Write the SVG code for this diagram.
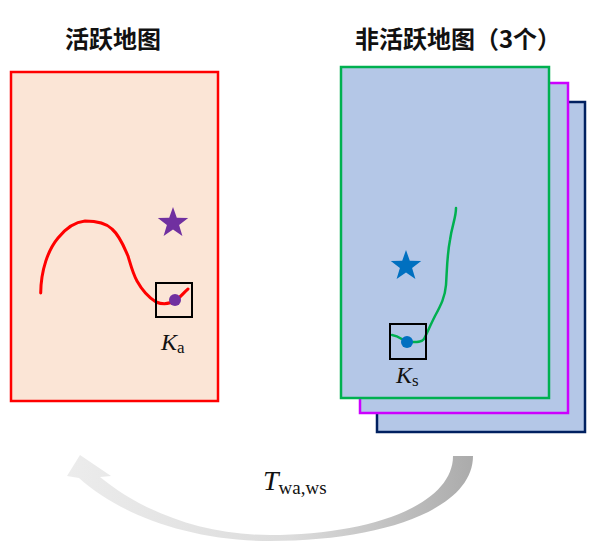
<svg xmlns="http://www.w3.org/2000/svg" width="593" height="553" viewBox="0 0 593 553">
<style>
.title{font-family:"Noto Sans CJK SC","Liberation Sans",sans-serif;font-size:24px;font-weight:bold;fill:#111;}
.math{font-family:"Liberation Serif",serif;fill:#111;}
.map{fill:#b4c7e7;stroke-width:2.5;}
.kbox{fill:none;stroke:#000;stroke-width:2;}
</style>
<defs>
<linearGradient id="arrowGrad" x1="0" y1="0" x2="1" y2="0">
<stop offset="0" stop-color="#ececec"/>
<stop offset="0.55" stop-color="#dcdcdc"/>
<stop offset="1" stop-color="#ababab"/>
</linearGradient>
</defs>
<rect width="593" height="553" fill="#fff"/>
<text class="title" x="113" y="48" text-anchor="middle">活跃地图</text>
<text class="title" x="458" y="48" text-anchor="middle">非活跃地图（3个）</text>

<g id="active-map">
<rect x="11" y="72" width="207" height="329" fill="#fbe5d6" stroke="#ff0000" stroke-width="2.5"/>
<path d="M40.7 293 C41 270 48 250 58 238 C66 228 75 222 85 221 C95 221 105 222 112 229 C120 236 124 247 128 256 C131 266 133 274 137 281 C142 290 148 297 156 302 C163 305 170 304 176 300 C181 297 184 292 188 289" fill="none" stroke="#ff0000" stroke-width="3" stroke-linecap="round"/>
<polygon fill="#7030a0" points="173,207 176.8,217.8 188.2,218.1 179.1,225 182.4,236 173,229.5 163.6,236 166.9,225 157.8,218.1 169.2,217.8"/>
<rect class="kbox" x="156" y="283" width="36" height="34"/>
<circle cx="175" cy="300" r="6" fill="#7030a0"/>
<text class="math" x="161" y="350" font-size="24"><tspan font-style="italic">K</tspan><tspan font-size="17" dy="3">a</tspan></text>
</g>

<g id="inactive-maps">
<rect class="map" x="377" y="102" width="208" height="330" stroke="#002060"/>
<rect class="map" x="360" y="83" width="208" height="330" stroke="#cc00ff"/>
<rect class="map" x="341" y="67" width="208" height="331" stroke="#00b050"/>
<path d="M456 208 C456 218 452 225 450 240 C447 255 447 270 446 285 C445 297 441 305 435 316 C430 326 427 333 424 339 C421 343 415 342 408 342 C403 341 400 336 392 335" fill="none" stroke="#00b050" stroke-width="2.5" stroke-linecap="round"/>
<polygon fill="#0070c0" points="406,250 409.8,260.8 421.2,261.1 412.1,268 415.4,279 406,272.5 396.6,279 399.9,268 390.8,261.1 402.2,260.8"/>
<rect class="kbox" x="390" y="324" width="36" height="35"/>
<circle cx="407" cy="342" r="6" fill="#0070c0"/>
<text class="math" x="396" y="383" font-size="24"><tspan font-style="italic">K</tspan><tspan font-size="17" dy="3">s</tspan></text>
</g>

<g id="connectors">
<path d="M453 456 L473 456 C473 510 380 541 270 541 C190 541 120 515 79 478 L67 476 L80 455 L111 476 L100 477 C140 510 200 535 270 535 C370 535 453 505 453 456 Z" fill="url(#arrowGrad)"/>
<text class="math" x="263" y="490" font-size="28"><tspan font-style="italic">T</tspan><tspan font-size="19" dy="4">wa,ws</tspan></text>
</g>
</svg>
